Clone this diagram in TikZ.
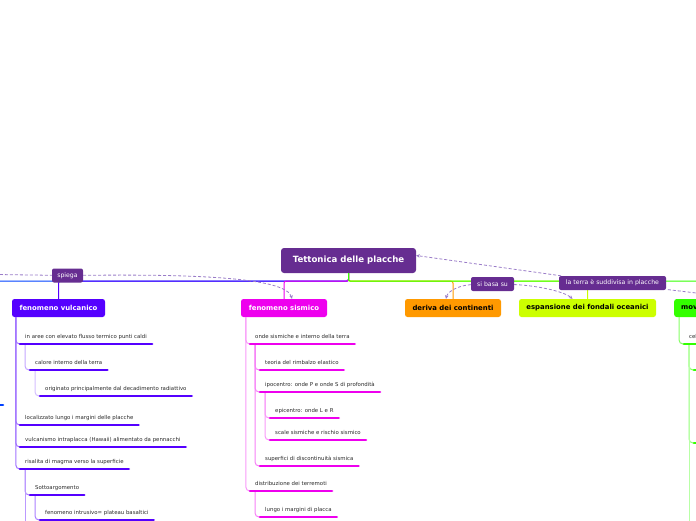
\documentclass[tikz,border=0pt]{standalone}
\usepackage{fontspec}
\setmainfont{DejaVu Sans}
\usetikzlibrary{arrows.meta, positioning}

\definecolor{mapviola}{HTML}{662D91}
\definecolor{vulccol}{HTML}{5500FF}
\definecolor{sismcol}{HTML}{EE00EE}
\definecolor{derivcol}{HTML}{FF9900}
\definecolor{espcol}{HTML}{CCFF00}
\definecolor{movcol}{HTML}{33FF00}
\definecolor{leftcol}{HTML}{0040FF}
\definecolor{relcol}{HTML}{9A7CC8}
\definecolor{itemtxt}{HTML}{2A2A2A}

\begin{document}
\begin{tikzpicture}[
    x=1pt, y=-1pt,
    rootbox/.style={rectangle, rounded corners=3pt, fill=mapviola, text=white,
        font=\fontsize{8.6}{10}\selectfont\bfseries, minimum width=135pt, minimum height=25pt},
    topic/.style={rectangle, rounded corners=2.5pt, fill=#1,
        font=\fontsize{6.9}{8}\selectfont\bfseries, minimum height=18pt, inner xsep=7pt},
    rel/.style={rectangle, rounded corners=2pt, fill=mapviola, text=white,
        font=\fontsize{6.2}{7}\selectfont, minimum height=14pt, inner xsep=4pt},
    item/.style={anchor=south west, inner xsep=5pt, inner ysep=5pt, text depth=0pt,
        font=\fontsize{5.4}{6}\selectfont, text=itemtxt},
    ul/.style={draw=#1, line width=2.6pt, line cap=round},
    link/.style={draw=#1, line width=1pt, rounded corners=2pt},
    twig/.style={draw=#1, line width=1pt, rounded corners=4pt},
    relarrow/.style={draw=relcol, line width=0.8pt, dash pattern=on 3pt off 2pt,
        -{Stealth[length=3.5pt, width=3.5pt]}}
]
\useasboundingbox (0,0) rectangle (696,520);
\clip (0,0) rectangle (696,520);

% root and main topics
\node[rootbox] (root) at (348.5,260.5) {Tettonica delle placche};
\node[topic=vulccol, text=white, minimum width=93pt] (vulc) at (58.5,308) {fenomeno vulcanico};
\node[topic=sismcol, text=white, minimum width=86pt] (sism) at (284,308) {fenomeno sismico};
\node[topic=derivcol, text=black, minimum width=96pt] (deriva) at (453,308) {deriva dei continenti};
\node[topic=espcol, text=black, minimum width=137pt] (espans) at (587.5,308) {espansione dei fondali oceanici};
\node[topic=movcol, text=black, anchor=west] (movim) at (674,308) {movimento delle placche};
\coordinate (offleft) at (-60,299);

% root connectors
\draw[link=leftcol] (root.south) -- ++(0,8) -| (offleft);
\draw[link=vulccol] (root.south) -- ++(0,8) -| (vulc.north);
\draw[link=sismcol] (root.south) -- ++(0,8) -| (sism.north);
\draw[link=derivcol] (root.south) -- ++(0,8) -| (deriva.north);
\draw[link=espcol] (root.south) -- ++(0,8) -| (espans.north);
\draw[link=movcol] (root.south) -- ++(0,8) -| (movim.north);

% fenomeno vulcanico
\node[item] (v1) at (20,344) {in aree con elevato flusso termico punti caldi};
\node[item] (v2) at (30,370) {calore interno della terra};
\node[item] (v3) at (40,396) {originato principalmente dal decadimento radiattivo};
\node[item] (v4) at (20,425) {localizzato lungo i margini delle placche};
\node[item] (v5) at (20,447) {vulcanismo intraplacca (Hawaii) alimentato da pennacchi};
\node[item] (v6) at (20,469) {risalita di magma verso la superficie};
\node[item] (v7) at (30,495) {Sottoargomento};
\node[item] (v8) at (40,520) {fenomeno intrusivo= plateau basaltici};
\coordinate (offv6) at (25,540);
\draw[twig=vulccol!55] ([xshift=4pt]vulc.south west) |- (v1.south west);
\draw[twig=vulccol!55] ([xshift=4pt]vulc.south west) |- (v4.south west);
\draw[twig=vulccol!55] ([xshift=4pt]vulc.south west) |- (v5.south west);
\draw[twig=vulccol!55] ([xshift=4pt]vulc.south west) |- (v6.south west);
\draw[twig=vulccol!35] ([xshift=5pt]v1.south west) |- (v2.south west);
\draw[twig=vulccol!25] ([xshift=5pt]v2.south west) |- (v3.south west);
\draw[twig=vulccol!50] ([xshift=5pt]v6.south west) |- (v7.south west);
\draw[twig=vulccol!40] ([xshift=5pt]v6.south west) -- (offv6);
\draw[twig=vulccol!50] ([xshift=5pt]v7.south west) |- (v8.south west);
\draw[ul=vulccol] (v1.south west) -- (v1.south east);
\draw[ul=vulccol] (v2.south west) -- (v2.south east);
\draw[ul=vulccol] (v3.south west) -- (v3.south east);
\draw[ul=vulccol] (v4.south west) -- (v4.south east);
\draw[ul=vulccol] (v5.south west) -- (v5.south east);
\draw[ul=vulccol] (v6.south west) -- (v6.south east);
\draw[ul=vulccol] (v7.south west) -- (v7.south east);
\draw[ul=vulccol] (v8.south west) -- (v8.south east);

% fenomeno sismico
\node[item] (s1) at (250,344) {onde sismiche e interno della terra};
\node[item] (s2) at (260,370) {teoria del rimbalzo elastico};
\node[item] (s3) at (260,392) {ipocentro: onde P e onde S di profondità};
\node[item] (s4) at (270,418) {epicentro: onde L e R};
\node[item] (s5) at (270,440) {scale sismiche e rischio sismico};
\node[item] (s6) at (260,466) {superfici di discontinuità sismica};
\node[item] (s7) at (250,491) {distribuzione dei terremoti};
\node[item] (s8) at (260,517) {lungo i margini di placca};
\draw[twig=sismcol!40] ([xshift=5pt]sism.south west) |- (s1.south west);
\draw[twig=sismcol!40] ([xshift=5pt]sism.south west) |- (s7.south west);
\draw[twig=sismcol!50] ([xshift=5pt]s1.south west) |- (s2.south west);
\draw[twig=sismcol!50] ([xshift=5pt]s1.south west) |- (s3.south west);
\draw[twig=sismcol!50] ([xshift=5pt]s1.south west) |- (s6.south west);
\draw[twig=sismcol!40] ([xshift=5pt]s3.south west) |- (s4.south west);
\draw[twig=sismcol!40] ([xshift=5pt]s3.south west) |- (s5.south west);
\draw[twig=sismcol!50] ([xshift=5pt]s7.south west) |- (s8.south west);
\draw[ul=sismcol] (s1.south west) -- (s1.south east);
\draw[ul=sismcol] (s2.south west) -- (s2.south east);
\draw[ul=sismcol] (s3.south west) -- (s3.south east);
\draw[ul=sismcol] (s4.south west) -- (s4.south east);
\draw[ul=sismcol] (s5.south west) -- (s5.south east);
\draw[ul=sismcol] (s6.south west) -- (s6.south east);
\draw[ul=sismcol] (s7.south west) -- (s7.south east);
\draw[ul=sismcol] (s8.south west) -- (s8.south east);

% movimento (cut off at the right edge)
\node[item] (m1) at (684,344) {celle convettive};
\coordinate (mstub1) at (694,370);
\coordinate (mstub2) at (694,443);
\coordinate (mend1) at (720,370);
\coordinate (mend2) at (720,443);
\coordinate (moff) at (689,540);
\draw[twig=movcol!60] ([xshift=5pt]movim.south west) |- (m1.south west);
\draw[twig=movcol!60] ([xshift=5pt]m1.south west) |- (mstub1);
\draw[twig=movcol!55] ([xshift=5pt]m1.south west) |- (mstub2);
\draw[twig=movcol!35] ([xshift=5pt]m1.south west) -- (moff);
\draw[ul=movcol] (m1.south west) -- (m1.south east);
\draw[ul=movcol] (mstub1) -- (mend1);
\draw[ul=movcol] (mstub2) -- (mend2);

% left stub of a branch outside the picture
\coordinate (leftoff) at (-30,405);
\coordinate (leftstub) at (3,405);
\draw[ul=leftcol] (leftoff) -- (leftstub);

% relationship labels
\node[rel, minimum width=31pt] (spiega) at (67.5,275.5) {spiega};
\node[rel, minimum width=43pt] (basa) at (492.5,284) {si basa su};
\node[rel, minimum width=107pt] (terra) at (612.5,283) {la terra è suddivisa in placche};
\coordinate (offspiega) at (-40,274);
\coordinate (offterra) at (780,303);

% relationships
\draw[relarrow, -] (offspiega) -- (spiega);
\draw[relarrow] (spiega) .. controls (200,274) and (286,278) .. ([xshift=8pt]sism.north);
\draw[relarrow, -] (offterra) -- (terra);
\draw[relarrow] (terra) -- ([yshift=5pt]root.east);
\draw[relarrow] (basa) .. controls (462,285) and (448,290) .. ([xshift=-7pt]deriva.north);
\draw[relarrow] (basa) .. controls (530,285) and (562,290) .. ([xshift=-15pt]espans.north);
\end{tikzpicture}
\end{document}
